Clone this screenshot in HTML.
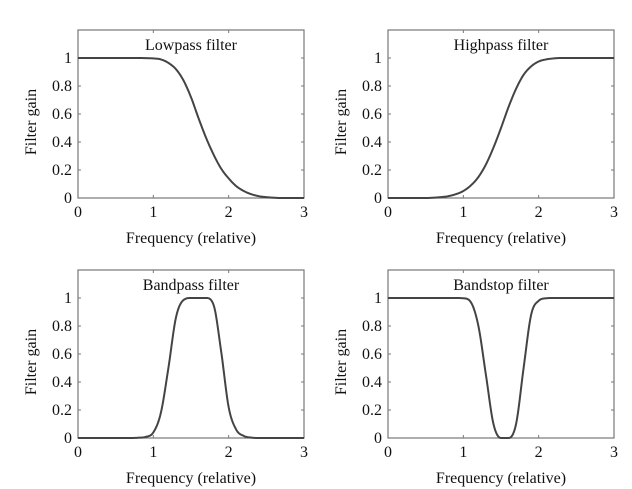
<!DOCTYPE html>
<html><head><meta charset="utf-8"><style>
body{margin:0;background:#fff;}
svg{display:block;font-family:"Liberation Serif",serif;}
</style></head><body>
<svg id="fig" width="632" height="489" viewBox="0 0 632 489"></svg>
<script>
const xs=[0,0.1,0.2,0.3,0.4,0.5,0.6,0.7,0.8,0.9,1.0,1.1,1.2,1.3,1.4,1.5,1.6,1.7,1.8,1.9,2.0,2.1,2.2,2.3,2.4,2.5,2.6,2.7,2.8,2.9,3.0];
const lowpass=[1,1,1,1,1,1,1,1,1,0.999,0.997,0.99,0.965,0.92,0.84,0.72,0.57,0.43,0.31,0.21,0.14,0.085,0.05,0.027,0.013,0.006,0.002,0,0,0,0];
const highpass=[0,0,0,0,0,0,0.002,0.006,0.013,0.027,0.05,0.09,0.15,0.24,0.36,0.5,0.65,0.78,0.88,0.94,0.975,0.99,0.997,1,1,1,1,1,1,1,1];
const bandpass=[0,0,0,0,0,0,0,0,0.002,0.008,0.04,0.18,0.5,0.86,0.985,1,1,1,0.95,0.62,0.22,0.06,0.015,0.003,0,0,0,0,0,0,0];
const bandstop=[1,1,1,1,1,1,1,1,1,1,0.998,0.97,0.8,0.45,0.1,0,0,0.1,0.5,0.88,0.98,0.998,1,1,1,1,1,1,1,1,1];
const xTicks=[0,1,2,3];
const yTicks=[0,0.2,0.4,0.6,0.8,1];
const yTickLabels=["0","0.2","0.4","0.6","0.8","1"];
const panels=[
 {name:"lowpass",title:"Lowpass filter",data:lowpass,L:78,R:304,T:30,B:198},
 {name:"highpass",title:"Highpass filter",data:highpass,L:388,R:614,T:30,B:198},
 {name:"bandpass",title:"Bandpass filter",data:bandpass,L:78,R:304,T:270,B:438},
 {name:"bandstop",title:"Bandstop filter",data:bandstop,L:388,R:614,T:270,B:438}
];
const NS="http://www.w3.org/2000/svg";
const svg=document.getElementById('fig');
function mk(tag,attrs,parent){const e=document.createElementNS(NS,tag);for(const k in attrs)e.setAttribute(k,attrs[k]);(parent||svg).appendChild(e);return e;}
function monotone(x,y,t){
 const n=x.length,d=[],m=[];
 for(let i=0;i<n-1;i++)d.push((y[i+1]-y[i])/(x[i+1]-x[i]));
 m[0]=d[0];m[n-1]=d[n-2];
 for(let i=1;i<n-1;i++){m[i]=(d[i-1]*d[i]<=0)?0:(d[i-1]+d[i])/2;}
 for(let i=0;i<n-1;i++){if(d[i]===0){m[i]=0;m[i+1]=0;continue;}const a=m[i]/d[i],b=m[i+1]/d[i],s=a*a+b*b;if(s>9){const tt=3/Math.sqrt(s);m[i]=tt*a*d[i];m[i+1]=tt*b*d[i];}}
 let i=Math.min(n-2,Math.max(0,Math.floor((t-x[0])/(x[1]-x[0]))));
 const h=x[i+1]-x[i],u=(t-x[i])/h,u2=u*u,u3=u2*u;
 return (2*u3-3*u2+1)*y[i]+(u3-2*u2+u)*h*m[i]+(-2*u3+3*u2)*y[i+1]+(u3-u2)*h*m[i+1];
}
panels.forEach(p=>{
 const g=mk('g',{});
 
 
 const y1=p.T+(p.B-p.T)*(0.2/1.2);
 const sx=v=>p.L+(p.R-p.L)*v/3;
 const sy=v=>p.B-(p.B-y1)*v;
 const box=mk('rect',{x:p.L,y:p.T,width:p.R-p.L,height:p.B-p.T,fill:'none',stroke:'#777','stroke-width':1.2},g);
 
 
 xTicks.forEach(v=>{
  mk('line',{x1:sx(v),x2:sx(v),y1:p.B,y2:p.B-3,stroke:'#777'},g);
  mk('line',{x1:sx(v),x2:sx(v),y1:p.T,y2:p.T+3,stroke:'#777'},g);
  const t=mk('text',{x:sx(v),y:p.B+19,'font-size':16,'text-anchor':'middle',fill:'#111'},g);t.textContent=v;
  
  
 });
 yTicks.forEach((v,i)=>{
  mk('line',{x1:p.L,x2:p.L+3,y1:sy(v),y2:sy(v),stroke:'#777'},g);
  mk('line',{x1:p.R,x2:p.R-3,y1:sy(v),y2:sy(v),stroke:'#777'},g);
  const t=mk('text',{x:p.L-6,y:sy(v)+5,'font-size':16,'text-anchor':'end',fill:'#111'},g);t.textContent=yTickLabels[i];
  
  
 });
 let d='';
 for(let k=0;k<=300;k++){const t=k/100;const v=Math.max(0,Math.min(1,monotone(xs,p.data,t)));d+=(k?'L':'M')+sx(t).toFixed(2)+','+sy(v).toFixed(2);}
 const path=mk('path',{d:d,fill:'none',stroke:'#444','stroke-width':2,'stroke-linejoin':'round'},g);
 
 
 const ti=mk('text',{x:(p.L+p.R)/2,y:p.T+20,'font-size':16,'text-anchor':'middle',fill:'#111'},g);ti.textContent=p.title;
 
 
 const xl=mk('text',{x:(p.L+p.R)/2,y:p.B+45,'font-size':16,'text-anchor':'middle',fill:'#111'},g);xl.textContent='Frequency (relative)';
 
 
 const cy=(p.T+p.B)/2+8;
 const yl=mk('text',{x:p.L-42,y:cy,'font-size':16,'text-anchor':'middle',fill:'#111',transform:'rotate(-90 '+(p.L-42)+' '+cy+')'},g);yl.textContent='Filter gain';
 
 
});
</script>
</body></html>
